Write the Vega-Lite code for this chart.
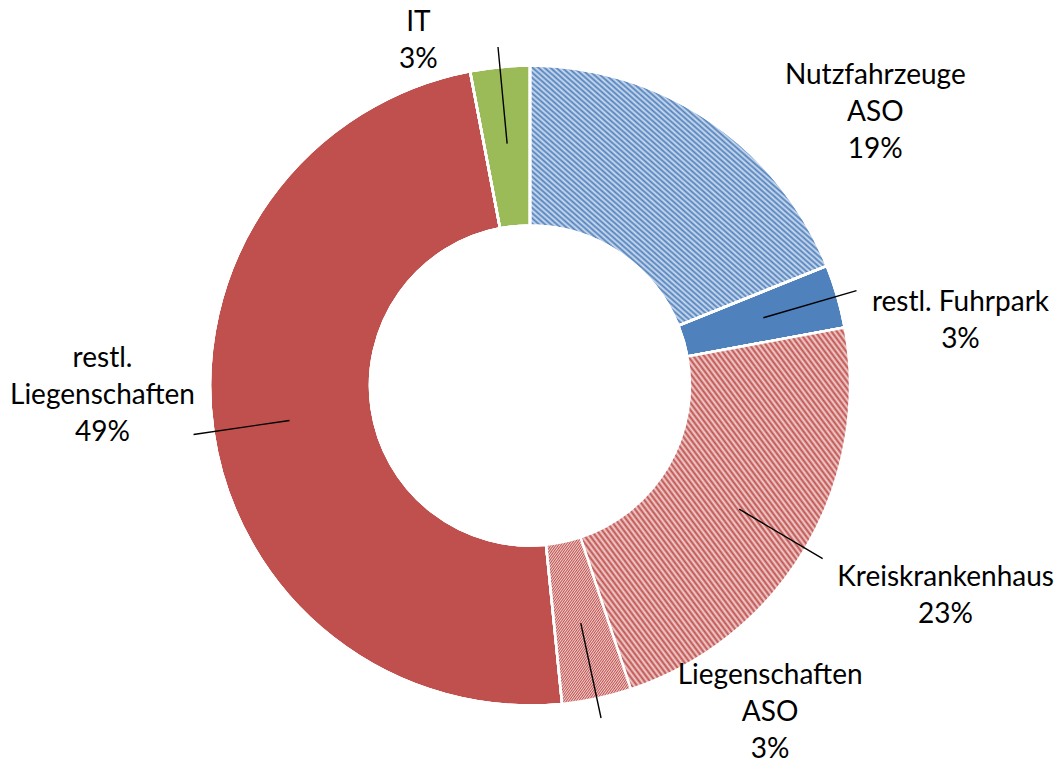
{
  "$schema": "https://vega.github.io/schema/vega-lite/v6.json",
  "width": 1056,
  "height": 759,
  "autosize": {"type": "none"},
  "padding": {"left": 2, "right": 0, "top": 6, "bottom": 0},
  "background": "white",
  "config": {"view": {"stroke": null}},
  "data": {
    "values": [
      {"cat": "Nutzfahrzeuge ASO", "label": "Nutzfahrzeuge\nASO\n19%", "value": 18.9, "order": 1},
      {"cat": "restl. Fuhrpark", "label": "restl. Fuhrpark\n3%", "value": 3.2, "order": 2},
      {"cat": "Kreiskrankenhaus", "label": "Kreiskrankenhaus\n23%", "value": 22.8, "order": 3},
      {"cat": "Liegenschaften ASO", "label": "Liegenschaften\nASO\n3%", "value": 3.5, "order": 4},
      {"cat": "restl. Liegenschaften", "label": "restl.\nLiegenschaften\n49%", "value": 48.6, "order": 5},
      {"cat": "IT", "label": "IT\n3%", "value": 3.0, "order": 6}
    ]
  },
  "encoding": {
    "theta": {"field": "value", "type": "quantitative", "stack": true},
    "order": {"field": "order", "type": "quantitative"}
  },
  "layer": [
    {
      "mark": {"type": "arc", "innerRadius": 160, "outerRadius": 320, "stroke": "white", "strokeWidth": 2.5},
      "encoding": {
        "color": {
          "field": "cat",
          "type": "nominal",
          "scale": {
            "domain": ["Nutzfahrzeuge ASO", "restl. Fuhrpark", "Kreiskrankenhaus", "Liegenschaften ASO", "restl. Liegenschaften", "IT"],
            "range": ["#94b2d8", "#4f81bd", "#dc9997", "#dc9997", "#c0504d", "#9bbb59"]
          },
          "legend": null
        }
      }
    },
    {
      "mark": {
        "type": "arc", "innerRadius": 160, "outerRadius": 320, "stroke": "white", "strokeWidth": 2.5,
        "fill": {"gradient": "linear", "x1": 0, "y1": 1, "x2": 1, "y2": 0, "stops": [
          {"offset":0,"color":"#4f81bd"},{"offset":0.005,"color":"#d2def0"},{"offset":0.01,"color":"#4f81bd"},{"offset":0.015,"color":"#d2def0"},{"offset":0.02,"color":"#4f81bd"},{"offset":0.025,"color":"#d2def0"},{"offset":0.03,"color":"#4f81bd"},{"offset":0.035,"color":"#d2def0"},{"offset":0.04,"color":"#4f81bd"},{"offset":0.045,"color":"#d2def0"},
          {"offset":0.05,"color":"#4f81bd"},{"offset":0.055,"color":"#d2def0"},{"offset":0.06,"color":"#4f81bd"},{"offset":0.065,"color":"#d2def0"},{"offset":0.07,"color":"#4f81bd"},{"offset":0.075,"color":"#d2def0"},{"offset":0.08,"color":"#4f81bd"},{"offset":0.085,"color":"#d2def0"},{"offset":0.09,"color":"#4f81bd"},{"offset":0.095,"color":"#d2def0"},
          {"offset":0.1,"color":"#4f81bd"},{"offset":0.105,"color":"#d2def0"},{"offset":0.11,"color":"#4f81bd"},{"offset":0.115,"color":"#d2def0"},{"offset":0.12,"color":"#4f81bd"},{"offset":0.125,"color":"#d2def0"},{"offset":0.13,"color":"#4f81bd"},{"offset":0.135,"color":"#d2def0"},{"offset":0.14,"color":"#4f81bd"},{"offset":0.145,"color":"#d2def0"},
          {"offset":0.15,"color":"#4f81bd"},{"offset":0.155,"color":"#d2def0"},{"offset":0.16,"color":"#4f81bd"},{"offset":0.165,"color":"#d2def0"},{"offset":0.17,"color":"#4f81bd"},{"offset":0.175,"color":"#d2def0"},{"offset":0.18,"color":"#4f81bd"},{"offset":0.185,"color":"#d2def0"},{"offset":0.19,"color":"#4f81bd"},{"offset":0.195,"color":"#d2def0"},
          {"offset":0.2,"color":"#4f81bd"},{"offset":0.205,"color":"#d2def0"},{"offset":0.21,"color":"#4f81bd"},{"offset":0.215,"color":"#d2def0"},{"offset":0.22,"color":"#4f81bd"},{"offset":0.225,"color":"#d2def0"},{"offset":0.23,"color":"#4f81bd"},{"offset":0.235,"color":"#d2def0"},{"offset":0.24,"color":"#4f81bd"},{"offset":0.245,"color":"#d2def0"},
          {"offset":0.25,"color":"#4f81bd"},{"offset":0.255,"color":"#d2def0"},{"offset":0.26,"color":"#4f81bd"},{"offset":0.265,"color":"#d2def0"},{"offset":0.27,"color":"#4f81bd"},{"offset":0.275,"color":"#d2def0"},{"offset":0.28,"color":"#4f81bd"},{"offset":0.285,"color":"#d2def0"},{"offset":0.29,"color":"#4f81bd"},{"offset":0.295,"color":"#d2def0"},
          {"offset":0.3,"color":"#4f81bd"},{"offset":0.305,"color":"#d2def0"},{"offset":0.31,"color":"#4f81bd"},{"offset":0.315,"color":"#d2def0"},{"offset":0.32,"color":"#4f81bd"},{"offset":0.325,"color":"#d2def0"},{"offset":0.33,"color":"#4f81bd"},{"offset":0.335,"color":"#d2def0"},{"offset":0.34,"color":"#4f81bd"},{"offset":0.345,"color":"#d2def0"},
          {"offset":0.35,"color":"#4f81bd"},{"offset":0.355,"color":"#d2def0"},{"offset":0.36,"color":"#4f81bd"},{"offset":0.365,"color":"#d2def0"},{"offset":0.37,"color":"#4f81bd"},{"offset":0.375,"color":"#d2def0"},{"offset":0.38,"color":"#4f81bd"},{"offset":0.385,"color":"#d2def0"},{"offset":0.39,"color":"#4f81bd"},{"offset":0.395,"color":"#d2def0"},
          {"offset":0.4,"color":"#4f81bd"},{"offset":0.405,"color":"#d2def0"},{"offset":0.41,"color":"#4f81bd"},{"offset":0.415,"color":"#d2def0"},{"offset":0.42,"color":"#4f81bd"},{"offset":0.425,"color":"#d2def0"},{"offset":0.43,"color":"#4f81bd"},{"offset":0.435,"color":"#d2def0"},{"offset":0.44,"color":"#4f81bd"},{"offset":0.445,"color":"#d2def0"},
          {"offset":0.45,"color":"#4f81bd"},{"offset":0.455,"color":"#d2def0"},{"offset":0.46,"color":"#4f81bd"},{"offset":0.465,"color":"#d2def0"},{"offset":0.47,"color":"#4f81bd"},{"offset":0.475,"color":"#d2def0"},{"offset":0.48,"color":"#4f81bd"},{"offset":0.485,"color":"#d2def0"},{"offset":0.49,"color":"#4f81bd"},{"offset":0.495,"color":"#d2def0"},
          {"offset":0.5,"color":"#4f81bd"},{"offset":0.505,"color":"#d2def0"},{"offset":0.51,"color":"#4f81bd"},{"offset":0.515,"color":"#d2def0"},{"offset":0.52,"color":"#4f81bd"},{"offset":0.525,"color":"#d2def0"},{"offset":0.53,"color":"#4f81bd"},{"offset":0.535,"color":"#d2def0"},{"offset":0.54,"color":"#4f81bd"},{"offset":0.545,"color":"#d2def0"},
          {"offset":0.55,"color":"#4f81bd"},{"offset":0.555,"color":"#d2def0"},{"offset":0.56,"color":"#4f81bd"},{"offset":0.565,"color":"#d2def0"},{"offset":0.57,"color":"#4f81bd"},{"offset":0.575,"color":"#d2def0"},{"offset":0.58,"color":"#4f81bd"},{"offset":0.585,"color":"#d2def0"},{"offset":0.59,"color":"#4f81bd"},{"offset":0.595,"color":"#d2def0"},
          {"offset":0.6,"color":"#4f81bd"},{"offset":0.605,"color":"#d2def0"},{"offset":0.61,"color":"#4f81bd"},{"offset":0.615,"color":"#d2def0"},{"offset":0.62,"color":"#4f81bd"},{"offset":0.625,"color":"#d2def0"},{"offset":0.63,"color":"#4f81bd"},{"offset":0.635,"color":"#d2def0"},{"offset":0.64,"color":"#4f81bd"},{"offset":0.645,"color":"#d2def0"},
          {"offset":0.65,"color":"#4f81bd"},{"offset":0.655,"color":"#d2def0"},{"offset":0.66,"color":"#4f81bd"},{"offset":0.665,"color":"#d2def0"},{"offset":0.67,"color":"#4f81bd"},{"offset":0.675,"color":"#d2def0"},{"offset":0.68,"color":"#4f81bd"},{"offset":0.685,"color":"#d2def0"},{"offset":0.69,"color":"#4f81bd"},{"offset":0.695,"color":"#d2def0"},
          {"offset":0.7,"color":"#4f81bd"},{"offset":0.705,"color":"#d2def0"},{"offset":0.71,"color":"#4f81bd"},{"offset":0.715,"color":"#d2def0"},{"offset":0.72,"color":"#4f81bd"},{"offset":0.725,"color":"#d2def0"},{"offset":0.73,"color":"#4f81bd"},{"offset":0.735,"color":"#d2def0"},{"offset":0.74,"color":"#4f81bd"},{"offset":0.745,"color":"#d2def0"},
          {"offset":0.75,"color":"#4f81bd"},{"offset":0.755,"color":"#d2def0"},{"offset":0.76,"color":"#4f81bd"},{"offset":0.765,"color":"#d2def0"},{"offset":0.77,"color":"#4f81bd"},{"offset":0.775,"color":"#d2def0"},{"offset":0.78,"color":"#4f81bd"},{"offset":0.785,"color":"#d2def0"},{"offset":0.79,"color":"#4f81bd"},{"offset":0.795,"color":"#d2def0"},
          {"offset":0.8,"color":"#4f81bd"},{"offset":0.805,"color":"#d2def0"},{"offset":0.81,"color":"#4f81bd"},{"offset":0.815,"color":"#d2def0"},{"offset":0.82,"color":"#4f81bd"},{"offset":0.825,"color":"#d2def0"},{"offset":0.83,"color":"#4f81bd"},{"offset":0.835,"color":"#d2def0"},{"offset":0.84,"color":"#4f81bd"},{"offset":0.845,"color":"#d2def0"},
          {"offset":0.85,"color":"#4f81bd"},{"offset":0.855,"color":"#d2def0"},{"offset":0.86,"color":"#4f81bd"},{"offset":0.865,"color":"#d2def0"},{"offset":0.87,"color":"#4f81bd"},{"offset":0.875,"color":"#d2def0"},{"offset":0.88,"color":"#4f81bd"},{"offset":0.885,"color":"#d2def0"},{"offset":0.89,"color":"#4f81bd"},{"offset":0.895,"color":"#d2def0"},
          {"offset":0.9,"color":"#4f81bd"},{"offset":0.905,"color":"#d2def0"},{"offset":0.91,"color":"#4f81bd"},{"offset":0.915,"color":"#d2def0"},{"offset":0.92,"color":"#4f81bd"},{"offset":0.925,"color":"#d2def0"},{"offset":0.93,"color":"#4f81bd"},{"offset":0.935,"color":"#d2def0"},{"offset":0.94,"color":"#4f81bd"},{"offset":0.945,"color":"#d2def0"},
          {"offset":0.95,"color":"#4f81bd"},{"offset":0.955,"color":"#d2def0"},{"offset":0.96,"color":"#4f81bd"},{"offset":0.965,"color":"#d2def0"},{"offset":0.97,"color":"#4f81bd"},{"offset":0.975,"color":"#d2def0"},{"offset":0.98,"color":"#4f81bd"},{"offset":0.985,"color":"#d2def0"},{"offset":0.99,"color":"#4f81bd"},{"offset":0.995,"color":"#d2def0"},{"offset":1,"color":"#4f81bd"}
        ]}
      },
      "encoding": {
        "fillOpacity": {"condition": {"test": "datum.cat === 'Nutzfahrzeuge ASO'", "value": 1}, "value": 0}
      }
    },
    {
      "mark": {
        "type": "arc", "innerRadius": 160, "outerRadius": 320, "stroke": "white", "strokeWidth": 2.5,
        "fill": {"gradient": "linear", "x1": 0, "y1": 1, "x2": 1, "y2": 0, "stops": [
          {"offset":0,"color":"#c0504d"},{"offset":0.005,"color":"#f0d3d2"},{"offset":0.01,"color":"#c0504d"},{"offset":0.015,"color":"#f0d3d2"},{"offset":0.02,"color":"#c0504d"},{"offset":0.025,"color":"#f0d3d2"},{"offset":0.03,"color":"#c0504d"},{"offset":0.035,"color":"#f0d3d2"},{"offset":0.04,"color":"#c0504d"},{"offset":0.045,"color":"#f0d3d2"},
          {"offset":0.05,"color":"#c0504d"},{"offset":0.055,"color":"#f0d3d2"},{"offset":0.06,"color":"#c0504d"},{"offset":0.065,"color":"#f0d3d2"},{"offset":0.07,"color":"#c0504d"},{"offset":0.075,"color":"#f0d3d2"},{"offset":0.08,"color":"#c0504d"},{"offset":0.085,"color":"#f0d3d2"},{"offset":0.09,"color":"#c0504d"},{"offset":0.095,"color":"#f0d3d2"},
          {"offset":0.1,"color":"#c0504d"},{"offset":0.105,"color":"#f0d3d2"},{"offset":0.11,"color":"#c0504d"},{"offset":0.115,"color":"#f0d3d2"},{"offset":0.12,"color":"#c0504d"},{"offset":0.125,"color":"#f0d3d2"},{"offset":0.13,"color":"#c0504d"},{"offset":0.135,"color":"#f0d3d2"},{"offset":0.14,"color":"#c0504d"},{"offset":0.145,"color":"#f0d3d2"},
          {"offset":0.15,"color":"#c0504d"},{"offset":0.155,"color":"#f0d3d2"},{"offset":0.16,"color":"#c0504d"},{"offset":0.165,"color":"#f0d3d2"},{"offset":0.17,"color":"#c0504d"},{"offset":0.175,"color":"#f0d3d2"},{"offset":0.18,"color":"#c0504d"},{"offset":0.185,"color":"#f0d3d2"},{"offset":0.19,"color":"#c0504d"},{"offset":0.195,"color":"#f0d3d2"},
          {"offset":0.2,"color":"#c0504d"},{"offset":0.205,"color":"#f0d3d2"},{"offset":0.21,"color":"#c0504d"},{"offset":0.215,"color":"#f0d3d2"},{"offset":0.22,"color":"#c0504d"},{"offset":0.225,"color":"#f0d3d2"},{"offset":0.23,"color":"#c0504d"},{"offset":0.235,"color":"#f0d3d2"},{"offset":0.24,"color":"#c0504d"},{"offset":0.245,"color":"#f0d3d2"},
          {"offset":0.25,"color":"#c0504d"},{"offset":0.255,"color":"#f0d3d2"},{"offset":0.26,"color":"#c0504d"},{"offset":0.265,"color":"#f0d3d2"},{"offset":0.27,"color":"#c0504d"},{"offset":0.275,"color":"#f0d3d2"},{"offset":0.28,"color":"#c0504d"},{"offset":0.285,"color":"#f0d3d2"},{"offset":0.29,"color":"#c0504d"},{"offset":0.295,"color":"#f0d3d2"},
          {"offset":0.3,"color":"#c0504d"},{"offset":0.305,"color":"#f0d3d2"},{"offset":0.31,"color":"#c0504d"},{"offset":0.315,"color":"#f0d3d2"},{"offset":0.32,"color":"#c0504d"},{"offset":0.325,"color":"#f0d3d2"},{"offset":0.33,"color":"#c0504d"},{"offset":0.335,"color":"#f0d3d2"},{"offset":0.34,"color":"#c0504d"},{"offset":0.345,"color":"#f0d3d2"},
          {"offset":0.35,"color":"#c0504d"},{"offset":0.355,"color":"#f0d3d2"},{"offset":0.36,"color":"#c0504d"},{"offset":0.365,"color":"#f0d3d2"},{"offset":0.37,"color":"#c0504d"},{"offset":0.375,"color":"#f0d3d2"},{"offset":0.38,"color":"#c0504d"},{"offset":0.385,"color":"#f0d3d2"},{"offset":0.39,"color":"#c0504d"},{"offset":0.395,"color":"#f0d3d2"},
          {"offset":0.4,"color":"#c0504d"},{"offset":0.405,"color":"#f0d3d2"},{"offset":0.41,"color":"#c0504d"},{"offset":0.415,"color":"#f0d3d2"},{"offset":0.42,"color":"#c0504d"},{"offset":0.425,"color":"#f0d3d2"},{"offset":0.43,"color":"#c0504d"},{"offset":0.435,"color":"#f0d3d2"},{"offset":0.44,"color":"#c0504d"},{"offset":0.445,"color":"#f0d3d2"},
          {"offset":0.45,"color":"#c0504d"},{"offset":0.455,"color":"#f0d3d2"},{"offset":0.46,"color":"#c0504d"},{"offset":0.465,"color":"#f0d3d2"},{"offset":0.47,"color":"#c0504d"},{"offset":0.475,"color":"#f0d3d2"},{"offset":0.48,"color":"#c0504d"},{"offset":0.485,"color":"#f0d3d2"},{"offset":0.49,"color":"#c0504d"},{"offset":0.495,"color":"#f0d3d2"},
          {"offset":0.5,"color":"#c0504d"},{"offset":0.505,"color":"#f0d3d2"},{"offset":0.51,"color":"#c0504d"},{"offset":0.515,"color":"#f0d3d2"},{"offset":0.52,"color":"#c0504d"},{"offset":0.525,"color":"#f0d3d2"},{"offset":0.53,"color":"#c0504d"},{"offset":0.535,"color":"#f0d3d2"},{"offset":0.54,"color":"#c0504d"},{"offset":0.545,"color":"#f0d3d2"},
          {"offset":0.55,"color":"#c0504d"},{"offset":0.555,"color":"#f0d3d2"},{"offset":0.56,"color":"#c0504d"},{"offset":0.565,"color":"#f0d3d2"},{"offset":0.57,"color":"#c0504d"},{"offset":0.575,"color":"#f0d3d2"},{"offset":0.58,"color":"#c0504d"},{"offset":0.585,"color":"#f0d3d2"},{"offset":0.59,"color":"#c0504d"},{"offset":0.595,"color":"#f0d3d2"},
          {"offset":0.6,"color":"#c0504d"},{"offset":0.605,"color":"#f0d3d2"},{"offset":0.61,"color":"#c0504d"},{"offset":0.615,"color":"#f0d3d2"},{"offset":0.62,"color":"#c0504d"},{"offset":0.625,"color":"#f0d3d2"},{"offset":0.63,"color":"#c0504d"},{"offset":0.635,"color":"#f0d3d2"},{"offset":0.64,"color":"#c0504d"},{"offset":0.645,"color":"#f0d3d2"},
          {"offset":0.65,"color":"#c0504d"},{"offset":0.655,"color":"#f0d3d2"},{"offset":0.66,"color":"#c0504d"},{"offset":0.665,"color":"#f0d3d2"},{"offset":0.67,"color":"#c0504d"},{"offset":0.675,"color":"#f0d3d2"},{"offset":0.68,"color":"#c0504d"},{"offset":0.685,"color":"#f0d3d2"},{"offset":0.69,"color":"#c0504d"},{"offset":0.695,"color":"#f0d3d2"},
          {"offset":0.7,"color":"#c0504d"},{"offset":0.705,"color":"#f0d3d2"},{"offset":0.71,"color":"#c0504d"},{"offset":0.715,"color":"#f0d3d2"},{"offset":0.72,"color":"#c0504d"},{"offset":0.725,"color":"#f0d3d2"},{"offset":0.73,"color":"#c0504d"},{"offset":0.735,"color":"#f0d3d2"},{"offset":0.74,"color":"#c0504d"},{"offset":0.745,"color":"#f0d3d2"},
          {"offset":0.75,"color":"#c0504d"},{"offset":0.755,"color":"#f0d3d2"},{"offset":0.76,"color":"#c0504d"},{"offset":0.765,"color":"#f0d3d2"},{"offset":0.77,"color":"#c0504d"},{"offset":0.775,"color":"#f0d3d2"},{"offset":0.78,"color":"#c0504d"},{"offset":0.785,"color":"#f0d3d2"},{"offset":0.79,"color":"#c0504d"},{"offset":0.795,"color":"#f0d3d2"},
          {"offset":0.8,"color":"#c0504d"},{"offset":0.805,"color":"#f0d3d2"},{"offset":0.81,"color":"#c0504d"},{"offset":0.815,"color":"#f0d3d2"},{"offset":0.82,"color":"#c0504d"},{"offset":0.825,"color":"#f0d3d2"},{"offset":0.83,"color":"#c0504d"},{"offset":0.835,"color":"#f0d3d2"},{"offset":0.84,"color":"#c0504d"},{"offset":0.845,"color":"#f0d3d2"},
          {"offset":0.85,"color":"#c0504d"},{"offset":0.855,"color":"#f0d3d2"},{"offset":0.86,"color":"#c0504d"},{"offset":0.865,"color":"#f0d3d2"},{"offset":0.87,"color":"#c0504d"},{"offset":0.875,"color":"#f0d3d2"},{"offset":0.88,"color":"#c0504d"},{"offset":0.885,"color":"#f0d3d2"},{"offset":0.89,"color":"#c0504d"},{"offset":0.895,"color":"#f0d3d2"},
          {"offset":0.9,"color":"#c0504d"},{"offset":0.905,"color":"#f0d3d2"},{"offset":0.91,"color":"#c0504d"},{"offset":0.915,"color":"#f0d3d2"},{"offset":0.92,"color":"#c0504d"},{"offset":0.925,"color":"#f0d3d2"},{"offset":0.93,"color":"#c0504d"},{"offset":0.935,"color":"#f0d3d2"},{"offset":0.94,"color":"#c0504d"},{"offset":0.945,"color":"#f0d3d2"},
          {"offset":0.95,"color":"#c0504d"},{"offset":0.955,"color":"#f0d3d2"},{"offset":0.96,"color":"#c0504d"},{"offset":0.965,"color":"#f0d3d2"},{"offset":0.97,"color":"#c0504d"},{"offset":0.975,"color":"#f0d3d2"},{"offset":0.98,"color":"#c0504d"},{"offset":0.985,"color":"#f0d3d2"},{"offset":0.99,"color":"#c0504d"},{"offset":0.995,"color":"#f0d3d2"},{"offset":1,"color":"#c0504d"}
        ]}
      },
      "encoding": {
        "fillOpacity": {"condition": {"test": "datum.cat === 'Kreiskrankenhaus' || datum.cat === 'Liegenschaften ASO'", "value": 1}, "value": 0}
      }
    },
    {
      "mark": {"type": "arc", "innerRadius": 243, "outerRadius": 340, "padAngle": 3.14159, "fill": "transparent", "stroke": "black", "strokeWidth": 1.4},
      "encoding": {
        "strokeOpacity": {"condition": {"test": "datum.cat === 'Nutzfahrzeuge ASO'", "value": 0}, "value": 1}
      }
    },
    {
      "mark": {"type": "text", "radius": 240, "dx": 211, "dy": -111, "align": "center", "baseline": "middle", "lineBreak": "\n", "lineHeight": 37, "font": "Lato", "fontSize": 28, "color": "black"},
      "encoding": {"text": {"condition": {"test": "datum.cat === 'Nutzfahrzeuge ASO'", "field": "label"}, "value": ""}}
    },
    {
      "mark": {"type": "text", "radius": 240, "dx": 200, "dy": -16, "align": "center", "baseline": "middle", "lineBreak": "\n", "lineHeight": 37, "font": "Lato", "fontSize": 28, "color": "black"},
      "encoding": {"text": {"condition": {"test": "datum.cat === 'restl. Fuhrpark'", "field": "label"}, "value": ""}}
    },
    {
      "mark": {"type": "text", "radius": 240, "dx": 209, "dy": 70, "align": "center", "baseline": "middle", "lineBreak": "\n", "lineHeight": 37, "font": "Lato", "fontSize": 28, "color": "black"},
      "encoding": {"text": {"condition": {"test": "datum.cat === 'Kreiskrankenhaus'", "field": "label"}, "value": ""}}
    },
    {
      "mark": {"type": "text", "radius": 240, "dx": 190, "dy": 56, "align": "center", "baseline": "middle", "lineBreak": "\n", "lineHeight": 37, "font": "Lato", "fontSize": 28, "color": "black"},
      "encoding": {"text": {"condition": {"test": "datum.cat === 'Liegenschaften ASO'", "field": "label"}, "value": ""}}
    },
    {
      "mark": {"type": "text", "radius": 240, "dx": -190, "dy": -61, "align": "center", "baseline": "middle", "lineBreak": "\n", "lineHeight": 37, "font": "Lato", "fontSize": 28, "color": "black"},
      "encoding": {"text": {"condition": {"test": "datum.cat === 'restl. Liegenschaften'", "field": "label"}, "value": ""}}
    },
    {
      "mark": {"type": "text", "radius": 240, "dx": -89, "dy": -124, "align": "center", "baseline": "middle", "lineBreak": "\n", "lineHeight": 37, "font": "Lato", "fontSize": 28, "color": "black"},
      "encoding": {"text": {"condition": {"test": "datum.cat === 'IT'", "field": "label"}, "value": ""}}
    }
  ]
}
